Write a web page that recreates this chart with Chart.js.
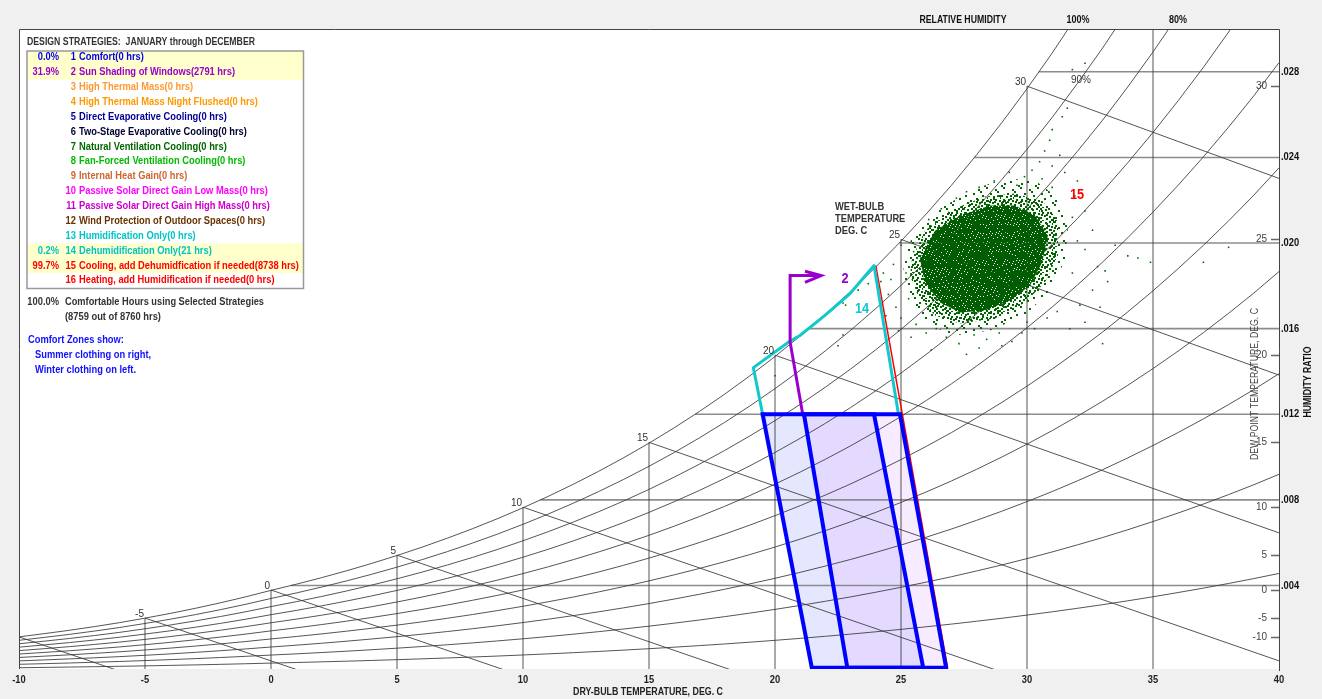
<!DOCTYPE html>
<html>
<head>
<meta charset="utf-8">
<title>Psychrometric Chart - Design Strategies</title>
<script src="https://cdn.jsdelivr.net/npm/chart.js@4.4.0/dist/chart.umd.min.js"></script>
<style>
  html, body { margin: 0; padding: 0; background: #f0f0f0; }
  #wrap { width: 1322px; height: 699px; position: relative; }
</style>
</head>
<body>
<div id="wrap"><canvas id="psychro"></canvas></div>
<script>
// --- chart grid -------------------------------------------------------------
// dry-bulb verticals run from the bottom up to the saturation curve
const dryBulbTicks = [-10, -5, 0, 5, 10, 15, 20, 25, 30, 35, 40];
const dryBulbTopRatio = [0.0016, 0.00248, 0.00379, 0.00542, 0.00766, 0.01069, 0.01476, 0.02017, 0.02733, 0.0300, 0.0300];

// humidity ratio horizontals start at their dew point
const ratioTicks = [0.004, 0.008, 0.012, 0.016, 0.020, 0.024, 0.028];
const ratioDewStart = [0.79, 10.69, 16.83, 21.34, 24.93, 27.91, 30.47];

// dew point scale on the right side
const dewTicks = [-10, -5, 0, 5, 10, 15, 20, 25, 30];
const dewTickRatio = [0.0016, 0.00248, 0.00379, 0.00542, 0.00766, 0.01069, 0.01476, 0.02017, 0.02733];

// wet-bulb lines: start on saturation, end on the bottom or right edge
const wetBulbTicks = [-10, -5, 0, 5, 10, 15, 20, 25, 30];
const wetBulbEndTemp = [-6.0, 1.2, 9.4, 18.4, 28.9, 40, 40, 40, 40];
const wetBulbEndRatio = [0, 0, 0, 0, 0, 0.00048, 0.00646, 0.01383, 0.02302];

// saturation vapour pressure (kPa) per degree, ice below zero
const satTemps = [-10, -9, -8, -7, -6, -5, -4, -3, -2, -1, 0, 1, 2, 3, 4, 5, 6, 7, 8, 9, 10, 11, 12, 13, 14, 15,
  16, 17, 18, 19, 20, 21, 22, 23, 24, 25, 26, 27, 28, 29, 30, 31, 32, 33, 34, 35, 36, 37, 38, 39, 40];
const satPressure = [0.2600, 0.2845, 0.3100, 0.3379, 0.3681, 0.4017, 0.4373, 0.4760, 0.5177, 0.5626,
  0.6112, 0.6571, 0.7060, 0.7580, 0.8135, 0.8725, 0.9353, 1.0020, 1.0729, 1.1481,
  1.2282, 1.3129, 1.4028, 1.4981, 1.5990, 1.7058, 1.8188, 1.9384, 2.0647, 2.1983,
  2.3392, 2.4878, 2.6452, 2.8100, 2.9856, 3.1698, 3.3637, 3.5670, 3.7828, 4.0089,
  4.2467, 4.4955, 4.7592, 5.0335, 5.3247, 5.6290, 5.9475, 6.2801, 6.6298, 6.9948, 7.3814];
const rhLevels = [10, 20, 30, 40, 50, 60, 70, 80, 90, 100];
const atmPressure = 101.325;

// --- comfort zones and strategy boundaries ------------------------------------
const winterZoneT = [19.51, 23.93, 25.88, 21.46, 19.51];
const winterZoneW = [0.0120, 0.0120, 0.00016, 0.00016, 0.0120];
const summerZoneT = [21.15, 24.96, 26.79, 22.87, 21.15];
const summerZoneW = [0.0120, 0.0120, 0.00016, 0.00016, 0.0120];

const dehumT = [19.51, 19.14, 20.60, 20.99, 21.98, 22.98, 23.93, 24.90];
const dehumW = [0.0120, 0.01418, 0.01542, 0.01568, 0.01662, 0.01764, 0.01895, 0.0120];

const coolingT = [24.00, 26.85];
const coolingW = [0.01895, 0.00016];

const shadingT = [21.10, 20.60, 20.60, 21.83];
const shadingW = [0.0120, 0.01537, 0.01848, 0.01848];
const shadingArrowT = [21.19, 21.83, 21.19];
const shadingArrowW = [0.01868, 0.01848, 0.01816];

// --- hourly weather data --------------------------------------------------------
// dense part of the 8760 hour cloud
const cloudHaloT = [25.16, 25.75, 26.75, 27.94, 29.13, 30.32, 31.11, 31.63, 31.51, 30.91, 29.92, 28.53, 27.14, 26.15, 25.36, 25.08, 25.16];
const cloudHaloW = [0.01965, 0.02082, 0.02175, 0.02254, 0.02301, 0.02292, 0.02222, 0.02082, 0.01918, 0.01778, 0.01662, 0.01592, 0.01568, 0.01615, 0.01732, 0.01848, 0.01965];
const cloudMidT = [25.44, 25.95, 26.94, 28.33, 29.52, 30.60, 31.23, 31.23, 30.71, 29.92, 28.73, 27.34, 26.35, 25.67, 25.36, 25.44];
const cloudMidW = [0.01928, 0.02058, 0.02152, 0.02217, 0.02231, 0.02198, 0.02105, 0.01942, 0.01816, 0.01722, 0.01648, 0.01624, 0.01662, 0.01755, 0.01848, 0.01928];
const cloudCoreT = [26.35, 27.34, 28.53, 29.52, 30.32, 30.83, 30.60, 30.12, 29.33, 28.33, 27.34, 26.55, 25.95, 25.75, 26.35];
const cloudCoreW = [0.02058, 0.02128, 0.02175, 0.02175, 0.02128, 0.02035, 0.01909, 0.01802, 0.01732, 0.01685, 0.01676, 0.01722, 0.01816, 0.01928, 0.02058];

// scattered hours around the cloud
const hourTemps = [31.8, 32.3, 31.6, 31.4, 31.0, 30.9, 30.7, 31.3, 30.5, 31.0, 30.2, 31.5, 29.9, 30.6, 32.0,
  28.7, 29.3, 28.1, 27.6, 29.6, 31.0, 31.9, 32.3, 31.8, 27.2, 26.6, 26.1,
  32.0, 32.3, 32.8, 33.1, 32.6, 32.1, 33.5, 32.6, 34.0, 34.4, 34.9, 37.0, 38.0, 33.2, 32.3, 33.0, 31.7, 32.9, 31.8,
  26.0, 26.4, 26.8, 27.3, 27.9, 28.4, 28.9, 29.8, 30.3, 30.8, 31.2, 27.0, 28.1, 29.4, 25.6, 26.2, 27.6, 29.0, 30.0,
  24.0, 24.2, 24.5, 24.8, 25.0, 25.2, 24.7, 25.3, 24.4, 23.7, 25.5, 25.0, 24.9, 25.4, 24.3, 24.6,
  23.0, 22.7, 22.8, 22.7, 22.5, 20.0, 23.3];
const hourRatios = [0.0281, 0.0284, 0.0263, 0.0259, 0.0253, 0.0248, 0.0243, 0.0241, 0.0238, 0.0236, 0.0234, 0.0233, 0.0231, 0.0230, 0.0229,
  0.0229, 0.0233, 0.0226, 0.0224, 0.0227, 0.0226, 0.0222, 0.0215, 0.0212, 0.0221, 0.0216, 0.0211,
  0.0201, 0.0197, 0.0189, 0.0187, 0.0178, 0.0171, 0.0199, 0.0206, 0.0194, 0.0193, 0.0191, 0.0191, 0.0198, 0.0182, 0.0163, 0.0153, 0.0160, 0.0170, 0.0186,
  0.0158, 0.0160, 0.0156, 0.0153, 0.0157, 0.0155, 0.0158, 0.0158, 0.0160, 0.0165, 0.0168, 0.0163, 0.0151, 0.0154, 0.0162, 0.0150, 0.0148, 0.0152, 0.0163,
  0.0185, 0.0182, 0.0176, 0.0170, 0.0165, 0.0186, 0.0190, 0.0174, 0.0166, 0.0181, 0.0196, 0.0199, 0.0159, 0.0156, 0.0186, 0.0183,
  0.0177, 0.0172, 0.0171, 0.0157, 0.0152, 0.0138, 0.0178];

// --- design strategy list ------------------------------------------------------
const strategyNames = ['Comfort', 'Sun Shading of Windows', 'High Thermal Mass', 'High Thermal Mass Night Flushed',
  'Direct Evaporative Cooling', 'Two-Stage Evaporative Cooling', 'Natural Ventilation Cooling',
  'Fan-Forced Ventilation Cooling', 'Internal Heat Gain', 'Passive Solar Direct Gain Low Mass',
  'Passive Solar Direct Gain High Mass', 'Wind Protection of Outdoor Spaces', 'Humidification Only',
  'Dehumidification Only', 'Cooling, add Dehumidfication if needed', 'Heating, add Humidification if needed'];
const strategyHours = [0, 2791, 0, 0, 0, 0, 0, 0, 0, 0, 0, 0, 0, 21, 8738, 0];
const strategyColors = ['#0000ee', '#9900cc', '#ff9933', '#ff9900', '#000099', '#000033', '#006600', '#00bb00',
  '#cc6633', '#ff00ff', '#cc00cc', '#663300', '#00c4c4', '#00c4c4', '#ff0000', '#ff0000'];
const selectedStrategies = [1, 2, 14, 15];
const totalHours = 8760;
const comfortableHours = 8759;

// --------------------------------------------------------------------------------
const GRID = 'rgba(55,55,55,0.85)';
const RATIO_GRID = '#8c8c8c';
const BOLD = 'bold 11px "Liberation Sans", Arial, sans-serif';
const PLAIN = '10px "Liberation Sans", Arial, sans-serif';

function path(xs, ys, color, width, order, extra) {
    return Object.assign({
        data: xs.map((x, i) => ({ x: x, y: ys[i] })),
        showLine: true,
        borderColor: color,
        borderWidth: width,
        pointRadius: 0,
        pointHoverRadius: 0,
        fill: false,
        tension: 0,
        order: order
    }, extra || {});
}

// speckled fills for the dense part of the hour cloud
function dotPattern(tile, dots, color, solid) {
    const c = document.createElement('canvas');
    c.width = tile;
    c.height = tile;
    const g = c.getContext('2d');
    g.fillStyle = color;
    if (solid) {
        g.fillRect(0, 0, tile, tile);
        dots.forEach(d => g.clearRect(d[0], d[1], 1, 1));
    } else {
        dots.forEach(d => g.fillRect(d[0], d[1], 2, 2));
    }
    return g.createPattern(c, 'repeat');
}

const haloFill = dotPattern(17, [[0, 0], [9, 2], [4, 6], [13, 8], [7, 11], [1, 13], [15, 15], [11, 4]], '#006a00');
const midFill = dotPattern(13, [[0, 0], [5, 1], [9, 0], [2, 4], [7, 4], [11, 5], [4, 7], [9, 8], [0, 9],
  [6, 10], [11, 11], [2, 12], [12, 2], [6, 6], [1, 6]], '#006600');
const coreFill = dotPattern(9, [[1, 1], [5, 0], [7, 3], [3, 4], [0, 6], [6, 7], [2, 8], [8, 8], [4, 2]], '#005c00', true);

const datasets = [];

// comfort zone fills sit under the grid
datasets.push(path(winterZoneT, winterZoneW, 'rgba(0,0,0,0)', 0, 100, { fill: 'shape', backgroundColor: 'rgba(180,185,255,0.35)' }));
datasets.push(path(summerZoneT, summerZoneW, 'rgba(0,0,0,0)', 0, 99, { fill: 'shape', backgroundColor: 'rgba(225,190,255,0.30)' }));

// relative humidity curves
rhLevels.forEach(rh => {
    const ratios = satPressure.map(p => {
        const pv = rh / 100 * p;
        return 0.622 * pv / (atmPressure - pv);
    });
    datasets.push(path(satTemps, ratios, GRID, 1, 80));
});

// dry-bulb verticals
dryBulbTicks.forEach((t, i) => {
    if (t > -10 && t < 40) datasets.push(path([t, t], [0, dryBulbTopRatio[i]], GRID, 1, 80));
});

// humidity ratio horizontals
ratioTicks.forEach((w, i) => {
    datasets.push(path([ratioDewStart[i], 40], [w, w], RATIO_GRID, 1.6, 81));
});

// wet-bulb lines
wetBulbTicks.forEach((t, i) => {
    datasets.push(path([t, wetBulbEndTemp[i]], [dewTickRatio[i], wetBulbEndRatio[i]], GRID, 1, 80));
});

// hourly data cloud
datasets.push(path(cloudHaloT, cloudHaloW, 'rgba(0,0,0,0)', 0, 62, { fill: 'shape', backgroundColor: haloFill }));
datasets.push(path(cloudMidT, cloudMidW, 'rgba(0,0,0,0)', 0, 61, { fill: 'shape', backgroundColor: midFill }));
datasets.push(path(cloudCoreT, cloudCoreW, 'rgba(0,0,0,0)', 0, 60, { fill: 'shape', backgroundColor: coreFill }));
datasets.push({
    data: hourTemps.map((t, i) => ({ x: t, y: hourRatios[i] })),
    showLine: false,
    pointStyle: 'rect',
    pointRadius: 1.1,
    pointHoverRadius: 1.1,
    backgroundColor: '#006400',
    borderWidth: 0,
    order: 58
});

// strategy boundaries
datasets.push(path(coolingT, coolingW, '#ff0000', 1.5, 40));
datasets.push(path(dehumT, dehumW, '#11c9cc', 3, 36, { borderJoinStyle: 'round' }));
datasets.push(path(shadingT, shadingW, '#9900cc', 3, 35, { borderJoinStyle: 'miter' }));
datasets.push(path(shadingArrowT, shadingArrowW, '#9900cc', 3, 35, { borderJoinStyle: 'miter' }));

// comfort zone outlines on top
datasets.push(path(winterZoneT, winterZoneW, '#0000ff', 4, 30, { borderJoinStyle: 'miter', borderCapStyle: 'square' }));
datasets.push(path(summerZoneT, summerZoneW, '#0000ff', 4, 30, { borderJoinStyle: 'miter', borderCapStyle: 'square' }));

function drawText(ctx, text, x, y, o) {
    ctx.save();
    ctx.font = o.font;
    ctx.fillStyle = o.color;
    ctx.textAlign = o.align || 'left';
    ctx.textBaseline = 'middle';
    const sx = o.width ? o.width / ctx.measureText(text).width : (o.scale || 1);
    ctx.translate(x, y);
    if (o.rotate) ctx.rotate(o.rotate);
    ctx.scale(sx, 1);
    ctx.fillText(text, 0, 0);
    ctx.restore();
}

const backdrop = {
    id: 'backdrop',
    beforeDraw(chart) {
        const { ctx, chartArea: a } = chart;
        ctx.save();
        ctx.fillStyle = '#f0f0f0';
        ctx.fillRect(0, 0, chart.width, chart.height);
        ctx.fillStyle = '#ffffff';
        ctx.fillRect(a.left, a.top, a.right - a.left, a.bottom - a.top);
        ctx.restore();
    }
};

const annotations = {
    id: 'annotations',
    afterDraw(chart) {
        const { ctx, chartArea: a } = chart;
        const xs = chart.scales.x;
        const ys = chart.scales.y;

        // one horizontal squeeze for all the bold text
        ctx.save();
        ctx.font = BOLD;
        const k = 156 / ctx.measureText('Sun Shading of Windows(2791 hrs)').width;
        ctx.restore();

        // frame
        ctx.save();
        ctx.strokeStyle = '#444';
        ctx.lineWidth = 1;
        ctx.beginPath();
        ctx.moveTo(a.left + 0.5, a.bottom);
        ctx.lineTo(a.left + 0.5, a.top + 0.5);
        ctx.lineTo(a.right + 0.5, a.top + 0.5);
        ctx.lineTo(a.right + 0.5, a.bottom + 2);
        ctx.stroke();
        ctx.restore();

        // dry-bulb axis
        dryBulbTicks.forEach(t => {
            drawText(ctx, String(t), xs.getPixelForValue(t), a.bottom + 11, { font: BOLD, color: '#222', align: 'center', scale: k });
        });
        drawText(ctx, 'DRY-BULB TEMPERATURE, DEG. C', 648, a.bottom + 23, { font: BOLD, color: '#222', align: 'center', width: 150 });

        // humidity ratio labels
        ratioTicks.forEach(w => {
            drawText(ctx, '.' + w.toFixed(3).split('.')[1], a.right + 2, ys.getPixelForValue(w), { font: BOLD, color: '#111', scale: k });
        });
        drawText(ctx, 'HUMIDITY RATIO', 1308, 382, { font: BOLD, color: '#111', align: 'center', width: 71, rotate: -Math.PI / 2 });

        // dew point scale
        ctx.save();
        ctx.strokeStyle = '#666';
        ctx.lineWidth = 1.5;
        dewTicks.forEach((t, i) => {
            const py = Math.round(ys.getPixelForValue(dewTickRatio[i])) + 0.5;
            ctx.beginPath();
            ctx.moveTo(a.right - 8, py);
            ctx.lineTo(a.right, py);
            ctx.stroke();
            drawText(ctx, String(t), a.right - 12, py, { font: PLAIN, color: '#444', align: 'right' });
        });
        ctx.restore();
        drawText(ctx, 'DEW POINT TEMPERATURE, DEG. C', 1255, 384, { font: PLAIN, color: '#444', align: 'center', width: 152, rotate: -Math.PI / 2 });

        // relative humidity header
        drawText(ctx, 'RELATIVE HUMIDITY', 963, 20, { font: BOLD, color: '#111', align: 'center', width: 87 });
        drawText(ctx, '100%', 1078, 20, { font: BOLD, color: '#111', align: 'center', width: 23 });
        drawText(ctx, '80%', 1178, 20, { font: BOLD, color: '#111', align: 'center', width: 18 });
        drawText(ctx, '90%', 1081, 80, { font: PLAIN, color: '#333', align: 'center' });

        // wet-bulb labels on the saturation curve
        wetBulbTicks.forEach((t, i) => {
            if (t === -10) return;
            drawText(ctx, String(t), xs.getPixelForValue(t) - 1, ys.getPixelForValue(dewTickRatio[i]) - 4, { font: PLAIN, color: '#333', align: 'right' });
        });
        ['WET-BULB', 'TEMPERATURE', 'DEG. C'].forEach((s, i) => {
            drawText(ctx, s, 835, 207 + i * 12, { font: BOLD, color: '#333', scale: k });
        });

        // strategy numbers
        const big = 'bold 15px "Liberation Sans", Arial, sans-serif';
        drawText(ctx, '2', 845, 279, { font: big, color: '#9900cc', align: 'center', scale: k });
        drawText(ctx, '14', 862, 309, { font: big, color: '#11c9cc', align: 'center', scale: k });
        drawText(ctx, '15', 1077, 195, { font: big, color: '#ff0000', align: 'center', scale: k });

        // strategy list
        drawText(ctx, 'DESIGN STRATEGIES:  JANUARY through DECEMBER', 27, 42, { font: BOLD, color: '#333', width: 228 });
        const rowH = 14.87;
        const rowY = i => 57.3 + i * rowH;
        ctx.save();
        ctx.fillStyle = '#ffffcc';
        strategyNames.forEach((n, i) => {
            if (selectedStrategies.indexOf(i + 1) >= 0) {
                const top = Math.max(51.5, rowY(i) - 7.3);
                ctx.fillRect(27.5, top, 276, rowY(i) + rowH - 7.3 - top);
            }
        });
        ctx.strokeStyle = '#999';
        ctx.lineWidth = 1.5;
        ctx.strokeRect(27, 51, 276.5, 237.5);
        ctx.restore();

        strategyNames.forEach((n, i) => {
            const c = strategyColors[i];
            const y = rowY(i);
            if (selectedStrategies.indexOf(i + 1) >= 0) {
                const pct = (strategyHours[i] / totalHours * 100).toFixed(1) + '%';
                drawText(ctx, pct, 59, y, { font: BOLD, color: c, align: 'right', scale: k });
            }
            drawText(ctx, String(i + 1), 76, y, { font: BOLD, color: c, align: 'right', scale: k });
            drawText(ctx, n + '(' + strategyHours[i] + ' hrs)', 79, y, { font: BOLD, color: c, scale: k });
        });

        const pctAll = (comfortableHours / totalHours * 100).toFixed(1) + '%';
        drawText(ctx, pctAll, 59, 302, { font: BOLD, color: '#333', align: 'right', scale: k });
        drawText(ctx, 'Comfortable Hours using Selected Strategies', 65, 302, { font: BOLD, color: '#333', width: 199 });
        drawText(ctx, '(' + comfortableHours + ' out of ' + totalHours + ' hrs)', 65, 317, { font: BOLD, color: '#333', scale: k });

        drawText(ctx, 'Comfort Zones show:', 28, 340, { font: BOLD, color: '#1010ff', scale: k });
        drawText(ctx, 'Summer clothing on right,', 35, 355, { font: BOLD, color: '#1010ff', scale: k });
        drawText(ctx, 'Winter clothing on left.', 35, 370, { font: BOLD, color: '#1010ff', scale: k });
    }
};

new Chart(document.getElementById('psychro'), {
    type: 'scatter',
    data: { datasets: datasets },
    options: {
        responsive: true,
        maintainAspectRatio: false,
        devicePixelRatio: 1,
        animation: false,
        events: [],
        layout: { padding: { left: 19, top: 29, right: 43, bottom: 30 } },
        scales: {
            x: { type: 'linear', min: -10, max: 40, display: false },
            y: { type: 'linear', min: 0.0001, max: 0.0300, display: false }
        },
        plugins: {
            legend: { display: false },
            tooltip: { enabled: false }
        }
    },
    plugins: [backdrop, annotations]
});
</script>
</body>
</html>
